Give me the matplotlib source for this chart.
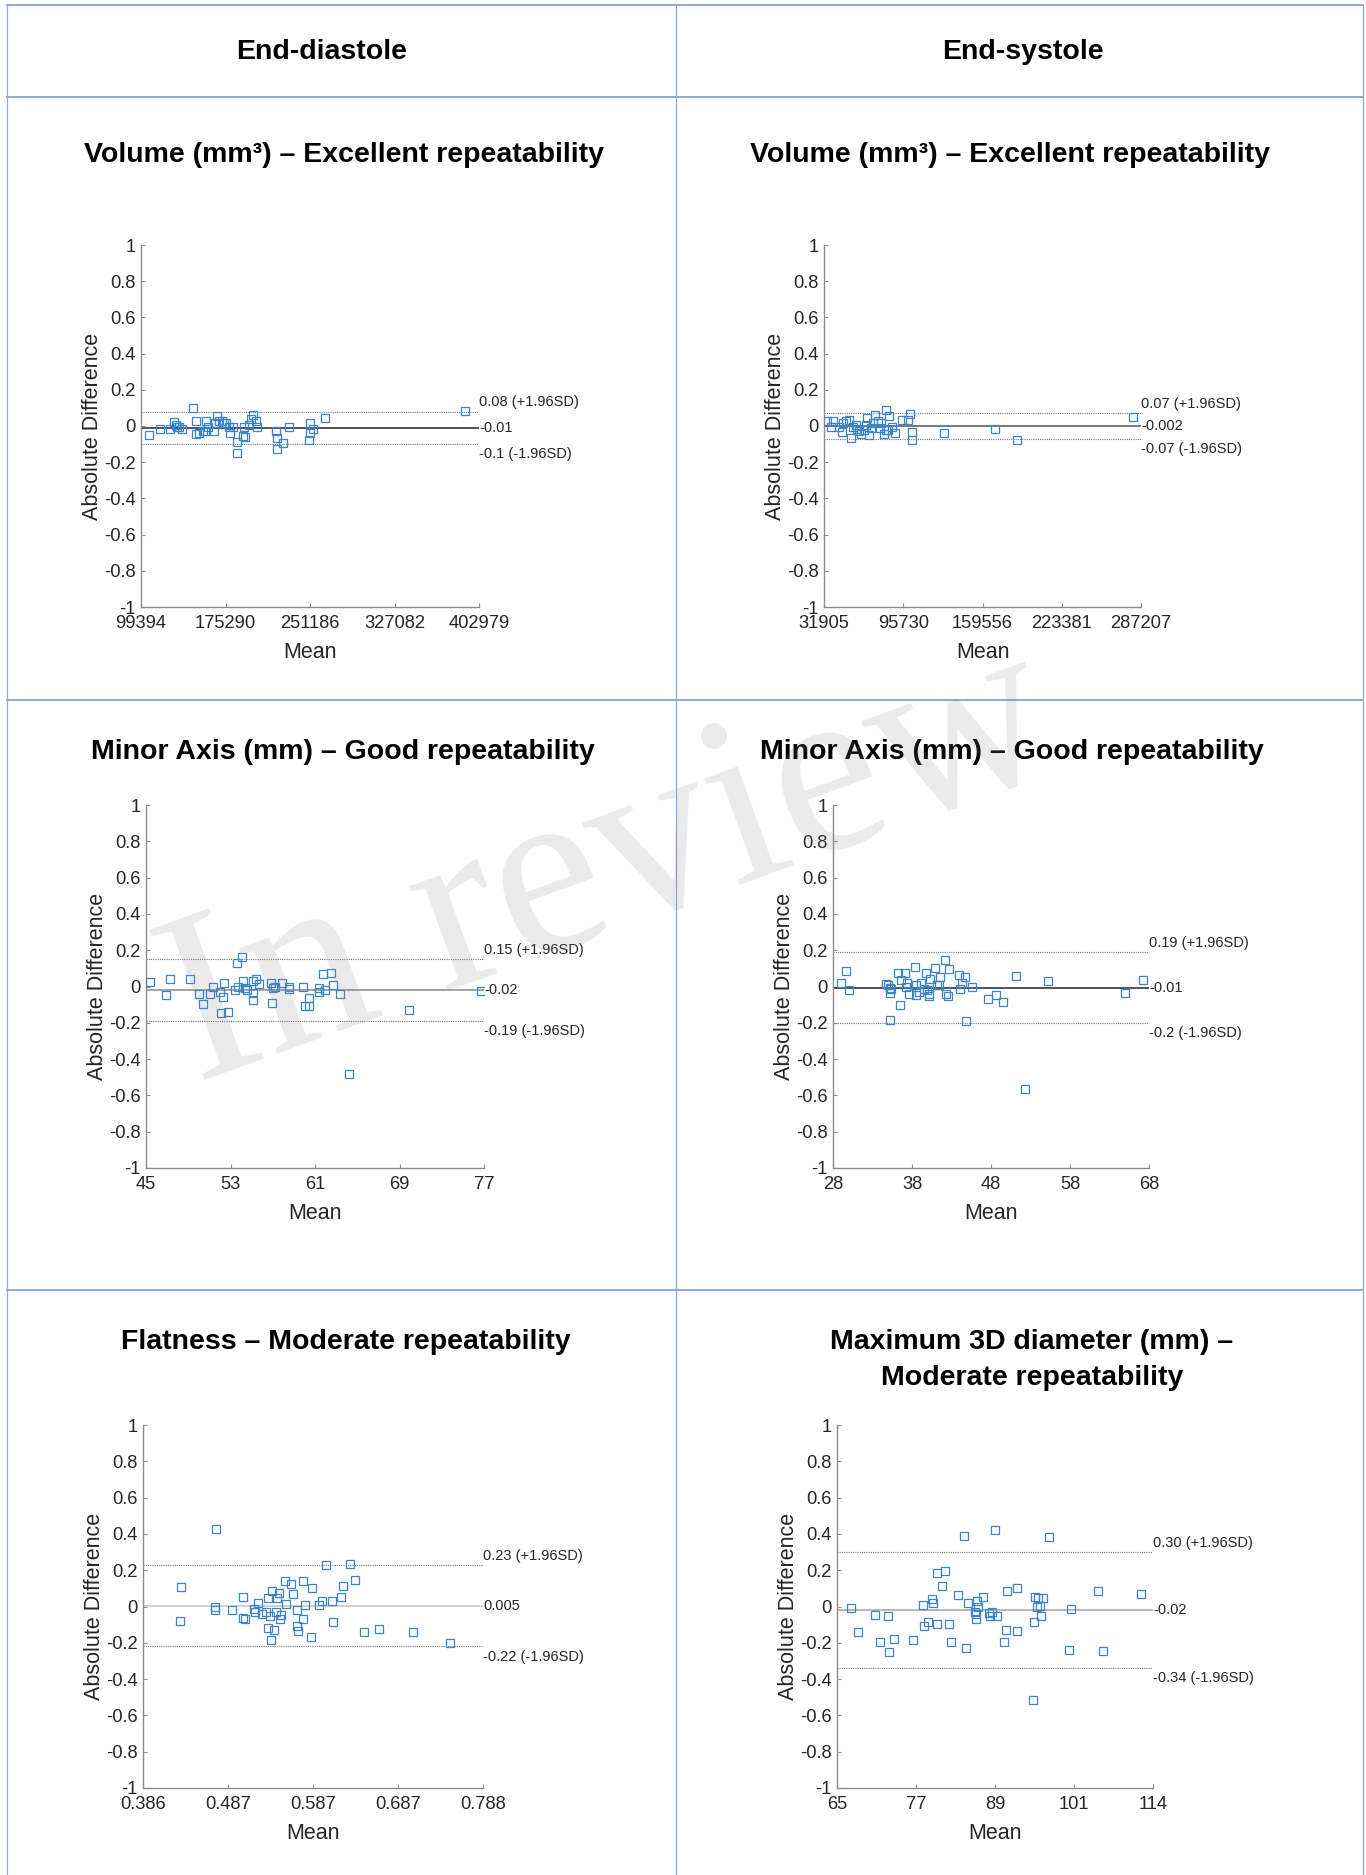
import matplotlib
matplotlib.use("Agg")
import matplotlib.pyplot as plt
import numpy as np

plt.rcParams['font.family'] = ['Liberation Sans', 'DejaVu Sans']

# ---- data (mean, difference) ----
# End-diastole volume
ed_vol_mean = [106870, 116441, 125416, 129300, 130500, 131400, 133500, 136500, 145750, 148750,
               148750, 151740, 154730, 156800, 157700, 159800, 164900, 165800, 167300, 169700,
               171800, 173900, 175700, 178700, 179300, 181650, 185200, 185200, 190600, 191800,
               192700, 196600, 197800, 199600, 202600, 203200, 220500, 221100, 221700, 226500,
               232500, 250400, 251000, 251600, 254000, 264500, 390100]
ed_vol_diff = [-0.051, -0.016, -0.016, 0.021, 0.006, -0.003, -0.003, -0.016, 0.102, 0.030,
               -0.043, -0.036, -0.030, -0.025, 0.025, -0.003, -0.030, 0.016, 0.056, 0.025,
               0.030, 0.019, 0.016, -0.003, -0.036, -0.003, -0.089, -0.150, -0.054, -0.003,
               -0.061, 0.006, 0.038, 0.062, 0.030, -0.006, -0.030, -0.067, -0.126, -0.095,
               -0.008, -0.076, 0.016, -0.036, -0.016, 0.043, 0.084]

# End-systole volume
es_vol_mean = [34590, 37280, 39160, 43990, 46680, 47220, 49370, 52060, 53940, 55280,
               57430, 58500, 60120, 62000, 63880, 65490, 66570, 68180, 70060, 71400,
               72750, 75440, 76780, 78120, 80000, 81620, 82150, 83500, 84300, 86990,
               88870, 95050, 99620, 100960, 102840, 103110, 128370, 169480, 186950, 280460]
es_vol_diff = [0.025, -0.003, 0.030, -0.006, -0.034, 0.016, 0.025, 0.034, -0.067, -0.003,
               0.006, -0.016, -0.025, -0.043, -0.021, 0.006, 0.043, -0.049, -0.012, 0.016,
               0.062, 0.030, -0.012, 0.016, -0.043, -0.021, 0.089, -0.021, 0.056, -0.003,
               -0.036, 0.034, 0.034, 0.067, -0.034, -0.076, -0.040, -0.014, -0.076, 0.049]

# End-diastole minor axis
ed_minor_mean = [45.41, 46.92, 47.30, 49.19, 49.98, 50.39, 51.02, 51.33, 51.96, 52.12,
                 52.27, 52.43, 52.81, 53.44, 53.60, 53.69, 54.07, 54.17, 54.39, 54.54,
                 55.11, 55.11, 55.17, 55.43, 55.74, 56.81, 56.91, 57.00, 57.22, 57.85,
                 58.57, 58.57, 59.90, 60.05, 60.46, 60.46, 61.41, 61.41, 61.79, 61.94,
                 62.48, 62.73, 63.36, 64.24, 69.91, 76.69]
ed_minor_diff = [0.024, -0.046, 0.042, 0.040, -0.040, -0.095, -0.040, -0.004, -0.028, -0.147,
                 -0.059, 0.022, -0.138, -0.018, 0.132, -0.004, 0.165, 0.033, -0.009, -0.022,
                 -0.037, -0.077, 0.033, 0.040, 0.015, 0.018, -0.092, -0.009, -0.004, 0.018,
                 -0.015, 0.000, -0.004, -0.110, -0.064, -0.110, -0.009, -0.028, 0.070, -0.018,
                 0.077, 0.009, -0.042, -0.483, -0.132, -0.024]

# End-systole minor axis
es_minor_mean = [28.97, 29.69, 29.98, 34.67, 34.96, 35.17, 35.26, 35.38, 35.17, 36.23,
                 36.65, 36.52, 37.06, 37.20, 37.41, 37.62, 38.33, 38.54, 38.54, 38.88,
                 39.18, 39.47, 39.81, 39.89, 40.15, 40.23, 40.15, 40.87, 41.16, 41.42,
                 41.50, 42.22, 42.26, 42.56, 42.64, 43.95, 44.12, 44.37, 44.75, 44.88,
                 45.56, 47.67, 48.60, 49.57, 51.21, 52.26, 55.25, 65.00, 67.24]
es_minor_diff = [0.022, 0.083, -0.018, 0.013, 0.009, -0.006, -0.037, -0.015, -0.184, 0.077,
                 0.037, -0.101, 0.073, 0.000, 0.018, -0.040, 0.105, 0.009, -0.046, -0.028,
                 0.018, -0.015, 0.073, -0.018, -0.040, 0.040, -0.055, 0.101, 0.009, 0.009,
                 0.051, 0.147, -0.040, -0.051, 0.097, 0.062, -0.015, 0.018, 0.050, -0.189,
                 -0.004, -0.068, -0.046, -0.084, 0.059, -0.565, 0.028, -0.037, 0.037]

# End-diastole flatness
ed_flat_mean = [0.4306, 0.4294, 0.4709, 0.4709, 0.4729, 0.4907, 0.5037, 0.5045, 0.5064, 0.5175,
                0.5183, 0.5215, 0.5262, 0.5313, 0.5341, 0.5341, 0.5361, 0.5369, 0.5381, 0.5408,
                0.5432, 0.5448, 0.5472, 0.5479, 0.5487, 0.5539, 0.5551, 0.5610, 0.5630, 0.5677,
                0.5685, 0.5689, 0.5748, 0.5756, 0.5776, 0.5843, 0.5863, 0.5946, 0.5974, 0.6021,
                0.6100, 0.6104, 0.6203, 0.6230, 0.6309, 0.6369, 0.6468, 0.6653, 0.7052, 0.7486]
ed_flat_diff = [0.110, -0.079, 0.000, -0.018, 0.428, -0.018, 0.050, -0.064, -0.070, -0.013,
                -0.033, 0.022, -0.040, -0.028, 0.046, -0.119, -0.051, -0.187, 0.088, -0.128,
                -0.033, 0.046, 0.077, -0.070, -0.046, 0.138, 0.015, 0.123, 0.068, -0.018,
                -0.110, -0.134, 0.138, -0.068, 0.009, -0.169, 0.101, 0.006, 0.028, 0.226,
                0.031, -0.088, 0.055, 0.114, 0.235, 0.147, -0.138, -0.125, -0.141, -0.202]

# End-systole maximum 3D diameter
es_diam_mean = [67.22, 68.25, 70.83, 71.60, 72.84, 73.00, 73.77, 76.76, 78.31, 78.51,
                79.08, 79.70, 79.96, 80.47, 80.57, 81.25, 81.76, 82.43, 82.69, 83.82,
                84.70, 85.01, 85.37, 86.40, 86.51, 86.56, 86.66, 86.82, 87.59, 88.62,
                88.73, 88.99, 89.50, 89.76, 90.94, 91.15, 91.30, 92.85, 92.96, 95.54,
                95.43, 95.69, 95.95, 96.21, 96.47, 96.62, 96.88, 97.91, 101.00, 101.26,
                105.49, 106.27, 112.20]
es_diam_diff = [-0.011, -0.138, -0.046, -0.193, -0.051, -0.251, -0.178, -0.184, 0.006, -0.110,
                -0.088, 0.044, 0.018, 0.184, -0.095, 0.114, 0.193, -0.097, -0.198, 0.064,
                0.391, -0.226, 0.022, -0.028, -0.040, -0.070, 0.028, -0.004, 0.051, -0.037,
                -0.051, -0.028, 0.422, -0.051, -0.193, -0.128, 0.083, -0.134, 0.101, -0.083,
                -0.517, 0.055, 0.000, 0.046, 0.004, -0.055, 0.046, 0.385, -0.242, -0.015,
                0.088, -0.244, 0.070]

# x axis ranges and tick labels
ed_vol_xlim = (99394, 402979)
es_vol_xlim = (31905, 287207)
ed_minor_xlim = (45, 77)
es_minor_xlim = (28, 68)
ed_flat_xlim = (0.386, 0.788)
es_diam_xlim = (65, 114)
ed_vol_xt = ['99394', '175290', '251186', '327082', '402979']
es_vol_xt = ['31905', '95730', '159556', '223381', '287207']
ed_minor_xt = ['45', '53', '61', '69', '77']
es_minor_xt = ['28', '38', '48', '58', '68']
ed_flat_xt = ['0.386', '0.487', '0.587', '0.687', '0.788']
es_diam_xt = ['65', '77', '89', '101', '114']

# limits of agreement (upper, bias, lower) and their labels
ed_vol_loa = (0.08, -0.01, -0.10)
es_vol_loa = (0.07, -0.002, -0.07)
ed_minor_loa = (0.15, -0.02, -0.19)
es_minor_loa = (0.19, -0.01, -0.20)
ed_flat_loa = (0.23, 0.005, -0.22)
es_diam_loa = (0.30, -0.02, -0.34)
ed_vol_lbl = ['0.08 (+1.96SD)', '-0.01', '-0.1 (-1.96SD)']
es_vol_lbl = ['0.07 (+1.96SD)', '-0.002', '-0.07 (-1.96SD)']
ed_minor_lbl = ['0.15 (+1.96SD)', '-0.02', '-0.19 (-1.96SD)']
es_minor_lbl = ['0.19 (+1.96SD)', '-0.01', '-0.2 (-1.96SD)']
ed_flat_lbl = ['0.23 (+1.96SD)', '0.005', '-0.22 (-1.96SD)']
es_diam_lbl = ['0.30 (+1.96SD)', '-0.02', '-0.34 (-1.96SD)']

y_ticks = [-1, -0.8, -0.6, -0.4, -0.2, 0, 0.2, 0.4, 0.6, 0.8, 1]
y_ticklabels = ['-1', '-0.8', '-0.6', '-0.4', '-0.2', '0', '0.2', '0.4', '0.6', '0.8', '1']

W, H = 1366, 1875
fig = plt.figure(figsize=(W / 100, H / 100), dpi=100)
fig.patch.set_facecolor('white')

# table grid (Word table look)
tcol = '#8eaadb'
for yy in [5, 97, 700, 1290]:
    fig.add_artist(plt.Line2D([7 / W, 1363 / W], [1 - yy / H, 1 - yy / H], color=tcol, lw=1.4))
for xx in [7, 676, 1363]:
    fig.add_artist(plt.Line2D([xx / W, xx / W], [1 - 5 / H, 0], color=tcol, lw=0.9))

title_fs = 20.5
fig.text(322 / W, 1 - 52 / H, 'End-diastole', ha='center', va='center', fontsize=title_fs, fontweight='bold')
fig.text(1023 / W, 1 - 52 / H, 'End-systole', ha='center', va='center', fontsize=title_fs, fontweight='bold')

panels = [
    # left, right, top, bottom (px), title, title pos, data, xlim, xticks, loa, labels, bias colour
    (141, 479, 245, 607, 'Volume (mm\u00b3) \u2013 Excellent repeatability', (344, 155),
     ed_vol_mean, ed_vol_diff, ed_vol_xlim, ed_vol_xt, ed_vol_loa, ed_vol_lbl, '#262626'),
    (824, 1141, 245, 607, 'Volume (mm\u00b3) \u2013 Excellent repeatability', (1010, 155),
     es_vol_mean, es_vol_diff, es_vol_xlim, es_vol_xt, es_vol_loa, es_vol_lbl, '#555555'),
    (146, 484, 805, 1168, 'Minor Axis (mm) \u2013 Good repeatability', (343, 752),
     ed_minor_mean, ed_minor_diff, ed_minor_xlim, ed_minor_xt, ed_minor_loa, ed_minor_lbl, '#8a8a8a'),
    (833, 1149, 805, 1168, 'Minor Axis (mm) \u2013 Good repeatability', (1012, 752),
     es_minor_mean, es_minor_diff, es_minor_xlim, es_minor_xt, es_minor_loa, es_minor_lbl, '#262626'),
    (143, 483, 1425, 1788, 'Flatness \u2013 Moderate repeatability', (346, 1342),
     ed_flat_mean, ed_flat_diff, ed_flat_xlim, ed_flat_xt, ed_flat_loa, ed_flat_lbl, '#c4c4c4'),
    (837, 1153, 1425, 1788, 'Maximum 3D diameter (mm) \u2013\nModerate repeatability', (1032, 1360),
     es_diam_mean, es_diam_diff, es_diam_xlim, es_diam_xt, es_diam_loa, es_diam_lbl, '#a3a3a3'),
]

for (l, r, t, b, title, tpos, xs, ys, xlim, xtl, loa, lbl, bcol) in panels:
    ax = fig.add_axes([l / W, 1 - b / H, (r - l) / W, (b - t) / H])
    ax.set_facecolor('none')
    ax.plot(xs, ys, linestyle='none', marker='s', ms=5.2, mfc='none', mec='#3b84cc', mew=0.9, zorder=3)
    ax.plot(xlim, [loa[0], loa[0]], color='#7a7a7a', lw=0.8, linestyle=(0, (1, 1)))
    ax.plot(xlim, [loa[1], loa[1]], color=bcol, lw=1.1)
    ax.plot(xlim, [loa[2], loa[2]], color='#7a7a7a', lw=0.8, linestyle=(0, (1, 1)))
    ax.text(xlim[1], loa[0] + 0.012, lbl[0], ha='left', va='bottom', fontsize=10.5, color='#262626')
    ax.text(xlim[1], loa[1], lbl[1], ha='left', va='center', fontsize=10.5, color='#262626')
    ax.text(xlim[1], loa[2] - 0.018, lbl[2], ha='left', va='top', fontsize=10.5, color='#262626')

    ax.set_xlim(xlim)
    ax.set_ylim(-1, 1)
    ax.set_xticks(np.linspace(xlim[0], xlim[1], 5))
    ax.set_xticklabels(xtl)
    ax.set_yticks(y_ticks)
    ax.set_yticklabels(y_ticklabels)
    for s in ['top', 'right']:
        ax.spines[s].set_visible(False)
    for s in ['left', 'bottom']:
        ax.spines[s].set_color('#8c8c8c')
        ax.spines[s].set_linewidth(1.0)
    ax.tick_params(direction='in', length=3, width=0.8, color='#8c8c8c', labelsize=13.2, labelcolor='#262626')
    ax.tick_params(axis='x', pad=6)
    ax.tick_params(axis='y', pad=4)

    ax.set_xlabel('Mean', fontsize=15.5, color='#262626')
    ax.set_ylabel('Absolute Difference', fontsize=15.5, color='#262626')
    ax.xaxis.set_label_coords(0.5, -35 / (b - t))
    ax.yaxis.set_label_coords(-38 / (r - l), 0.5)

    fig.text(tpos[0] / W, 1 - tpos[1] / H, title, ha='center', va='center', fontsize=title_fs,
             fontweight='bold', linespacing=1.5)

# watermark
fig.text(610 / W, 1 - 870 / H, 'In review', ha='center', va='center', rotation=20,
         rotation_mode='anchor', fontsize=175, family='Liberation Serif',
         color='#808080', alpha=0.17, zorder=10)

fig.savefig('out.png', dpi=100, facecolor='white')
